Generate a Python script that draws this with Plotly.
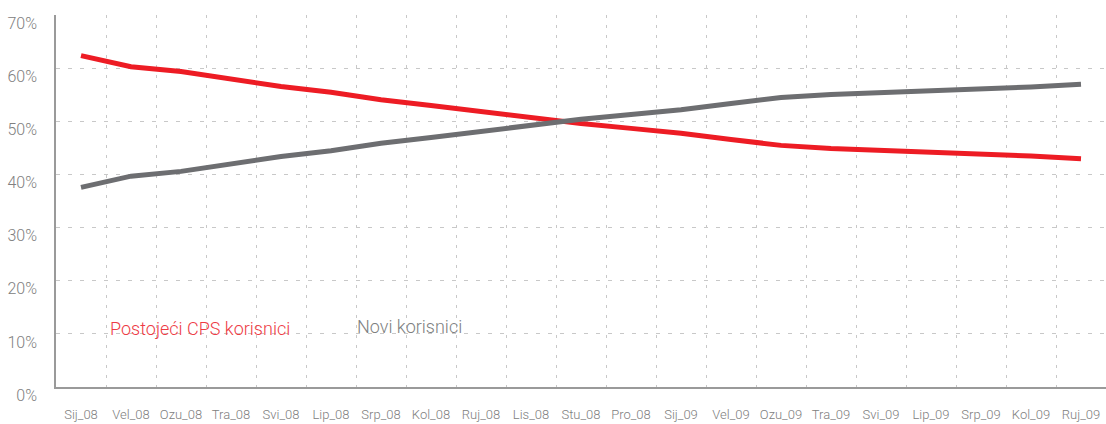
import plotly.graph_objects as go

months = ["Sij_08", "Vel_08", "Ozu_08", "Tra_08", "Svi_08", "Lip_08", "Srp_08",
          "Kol_08", "Ruj_08", "Lis_08", "Stu_08", "Pro_08", "Sij_09", "Vel_09",
          "Ozu_09", "Tra_09", "Svi_09", "Lip_09", "Srp_09", "Kol_09", "Ruj_09"]
postojeci = [62.4, 60.3, 59.4, 58.0, 56.6, 55.5, 54.1, 53.0, 51.9, 50.6, 49.6,
             48.7, 47.8, 46.6, 45.5, 44.9, 44.6, 44.2, 43.8, 43.5, 43.0]
novi = [37.6, 39.7, 40.6, 42.0, 43.4, 44.5, 45.9, 47.0, 48.1, 49.4, 50.4,
        51.3, 52.2, 53.4, 54.5, 55.1, 55.4, 55.8, 56.2, 56.5, 57.0]
y_ticks = [0, 10, 20, 30, 40, 50, 60, 70]
y_labels = [f"{v}%" for v in y_ticks]

RED = "#ED1C24"
GREY = "#6D6E71"

fig = go.Figure()
fig.add_trace(go.Scatter(x=months, y=postojeci, mode="lines", name="Postojeći CPS korisnici",
                         line=dict(color=RED, width=5)))
fig.add_trace(go.Scatter(x=months, y=novi, mode="lines", name="Novi korisnici",
                         line=dict(color=GREY, width=5)))

fig.add_annotation(x=0.54, y=11.0, xref="x", yref="y", text="Postojeći CPS korisnici",
                   showarrow=False, xanchor="left", yanchor="middle",
                   font=dict(color="#EE3B45", size=18, weight=300))
fig.add_annotation(x=5.48, y=11.3, xref="x", yref="y", text="Novi korisnici",
                   showarrow=False, xanchor="left", yanchor="middle",
                   font=dict(color="#7E7F81", size=18, weight=300))

fig.update_layout(
    width=1106, height=424,
    margin=dict(l=56, r=0, t=15, b=37),
    plot_bgcolor="white", paper_bgcolor="white",
    showlegend=False,
    font=dict(family="Roboto, DejaVu Sans, sans-serif", color="#808080"),
    xaxis=dict(
        type="category", range=[-0.5, 20.5], tickson="boundaries",
        showgrid=True, gridcolor="#C8C8C8", griddash="3px,7px", gridwidth=1,
        showline=True, linecolor="#9A9A9A", linewidth=1.5,
        ticks="", tickangle=0, tickfont=dict(size=13, color="#808080", weight=300),
        ticklabelstandoff=15, zeroline=False, automargin=False,
    ),
    yaxis=dict(
        range=[0, 70.05], tickvals=y_ticks, ticktext=y_labels,
        showgrid=True, gridcolor="#C8C8C8", griddash="4px,8px", gridwidth=1,
        showline=True, linecolor="#9A9A9A", linewidth=1.5,
        ticks="", tickfont=dict(size=16, color="#808080", weight=300),
        ticklabelstandoff=14, ticklabelshift=8, zeroline=False, automargin=False,
        ticklabeloverflow="allow",
    ),
)

fig.write_html("out.html", post_script="document.body.style.margin='0';",
               config={"displayModeBar": False})
